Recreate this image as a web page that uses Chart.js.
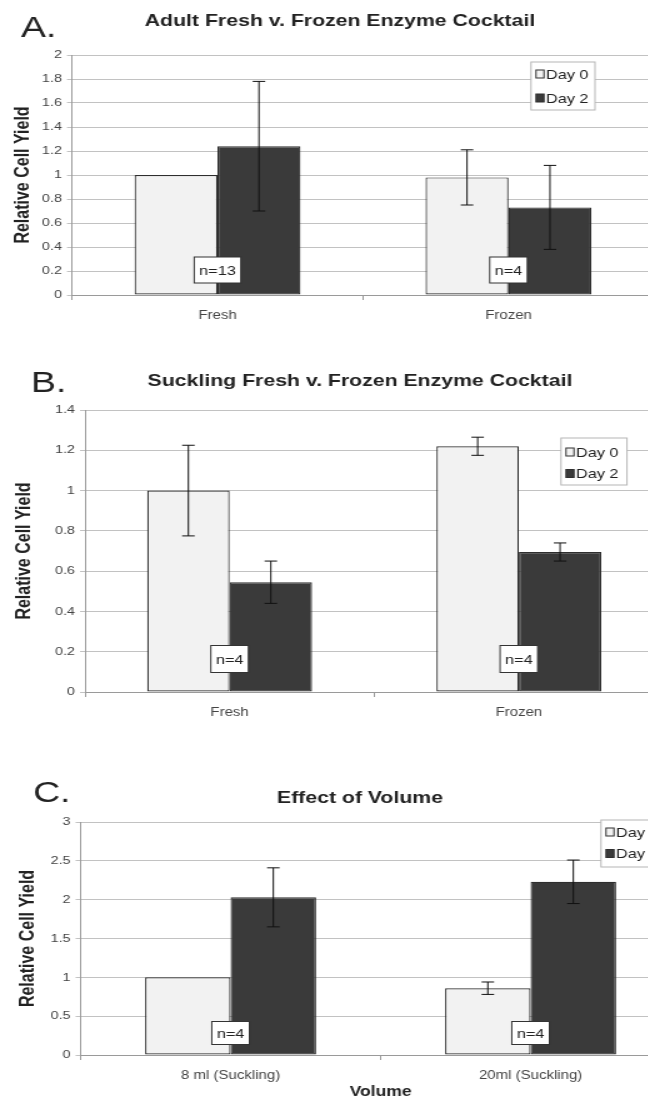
<!DOCTYPE html>
<html>
<head>
<meta charset="utf-8">
<script src="https://cdn.jsdelivr.net/npm/chart.js@4.4.1/dist/chart.umd.min.js"></script>
<style>
  html, body { margin: 0; padding: 0; background: #fff; }
  #page { position: relative; width: 648px; height: 1101px; overflow: hidden; background: #fff; }
  /* the scanned figure is wider than it is tall, so each canvas is stretched sideways */
  #page canvas { position: absolute; left: 0; transform: scaleX(1.25); transform-origin: 0 0; }
</style>
</head>
<body>
<div id="page">
  <canvas id="chartA" width="560" height="335" style="top:0px"></canvas>
  <canvas id="chartB" width="560" height="390" style="top:335px"></canvas>
  <canvas id="chartC" width="560" height="376" style="top:725px"></canvas>
</div>
<script>
// ---- data ----
const seriesNames = ['Day 0', 'Day 2'];

const adultCats = ['Fresh', 'Frozen'];
const adultDay0 = [1.0, 0.98];
const adultDay0Err = [null, 0.23];
const adultDay2 = [1.24, 0.73];
const adultDay2Err = [0.54, 0.35];
const adultN = ['n=13', 'n=4'];
const adultYMax = 2, adultYStep = 0.2;

const sucklingCats = ['Fresh', 'Frozen'];
const sucklingDay0 = [1.0, 1.22];
const sucklingDay0Err = [0.225, 0.045];
const sucklingDay2 = [0.545, 0.695];
const sucklingDay2Err = [0.105, 0.045];
const sucklingN = ['n=4', 'n=4'];
const sucklingYMax = 1.4, sucklingYStep = 0.2;

const volumeCats = ['8 ml (Suckling)', '20ml (Suckling)'];
const volumeDay0 = [1.0, 0.86];
const volumeDay0Err = [null, 0.08];
const volumeDay2 = [2.03, 2.23];
const volumeDay2Err = [0.38, 0.28];
const volumeN = ['n=4', 'n=4'];
const volumeYMax = 3, volumeYStep = 0.5;

// ---- style ----
const SX = 1.25;
const FONT = "'Liberation Sans', Arial, Helvetica, sans-serif";
const DAY0_FILL = '#f2f2f2', DAY2_FILL = '#3a3a3a', EDGE = '#2e2e2e';
const GRID = '#c2c2c2', AXIS = '#9a9a9a', TEXT = '#222', TICK = '#444';

Chart.defaults.font.family = FONT;

// page coordinates of each panel (px in the 648x1101 page)
const layoutA = { top: 0, height: 335, plotTop: 55, plotBottom: 295, plotLeft: 72, plotRight: 654,
  letter: 'A.', letterX: 21, letterY: 37, title: 'Adult Fresh v. Frozen Enzyme Cocktail', titleX: 340, titleY: 26,
  yTitleX: 23, nLift: 25, nH: 26, legend: { x: 531, y: 62, w: 64, h: 48, row: 74, gap: 24 }, xAxisH: 28, xTitle: null };
const layoutB = { top: 335, height: 390, plotTop: 410, plotBottom: 692, plotLeft: 85, plotRight: 663.5,
  letter: 'B.', letterX: 31, letterY: 392, title: 'Suckling Fresh v. Frozen Enzyme Cocktail', titleX: 360, titleY: 386,
  yTitleX: 25, nLift: 33, nH: 27, legend: { x: 561, y: 438, w: 66, h: 47, row: 452, gap: 21.5 }, xAxisH: 28, xTitle: null };
const layoutC = { top: 725, height: 376, plotTop: 822, plotBottom: 1055, plotLeft: 80.6, plotRight: 680.6,
  letter: 'C.', letterX: 33, letterY: 802, title: 'Effect of Volume', titleX: 360, titleY: 803,
  yTitleX: 28, nLift: 22, nH: 23, legend: { x: 601, y: 820, w: 66, h: 47, row: 832, gap: 21.5 }, xAxisH: 46, xTitle: 'Volume' };

const figurePlugin = {
  id: 'figure',
  afterDatasetsDraw(chart, args, o) {
    const ctx = chart.ctx, xs = chart.scales.x, ys = chart.scales.y;
    // error bars
    ctx.save();
    ctx.strokeStyle = '#111';
    ctx.lineWidth = 1;
    chart.data.datasets.forEach((ds, di) => {
      chart.getDatasetMeta(di).data.forEach((bar, i) => {
        const e = ds.errors[i];
        if (e == null) return;
        const yt = ys.getPixelForValue(ds.data[i] + e);
        const yb = ys.getPixelForValue(ds.data[i] - e);
        ctx.beginPath();
        ctx.moveTo(bar.x, yt); ctx.lineTo(bar.x, yb);
        ctx.moveTo(bar.x - 5, yt); ctx.lineTo(bar.x + 5, yt);
        ctx.moveTo(bar.x - 5, yb); ctx.lineTo(bar.x + 5, yb);
        ctx.stroke();
      });
    });
    // n= labels
    ctx.font = '13px ' + FONT;
    ctx.textAlign = 'center';
    ctx.textBaseline = 'middle';
    o.nLabels.forEach((t, i) => {
      const cx = xs.getPixelForValue(i);
      const cy = chart.chartArea.bottom - o.L.nLift;
      const w = ctx.measureText(t).width + 8;
      ctx.fillStyle = '#fff';
      ctx.fillRect(cx - w / 2, cy - o.L.nH / 2, w, o.L.nH);
      ctx.strokeStyle = '#333';
      ctx.strokeRect(cx - w / 2, cy - o.L.nH / 2, w, o.L.nH);
      ctx.fillStyle = TEXT;
      ctx.fillText(t, cx, cy + 1);
    });
    ctx.restore();
  },
  afterDraw(chart, args, o) {
    const ctx = chart.ctx, L = o.L;
    ctx.save();
    // panel letter
    ctx.fillStyle = TEXT;
    ctx.textBaseline = 'alphabetic';
    ctx.textAlign = 'left';
    ctx.font = '30px ' + FONT;
    ctx.fillText(L.letter, L.letterX / SX, L.letterY - L.top);
    // title
    ctx.textAlign = 'center';
    ctx.font = 'bold 17px ' + FONT;
    ctx.fillText(L.title, L.titleX / SX, L.titleY - L.top);
    // legend
    const g = L.legend;
    ctx.fillStyle = '#fff';
    ctx.fillRect(g.x / SX, g.y - L.top, g.w / SX, g.h);
    ctx.strokeStyle = '#b5b5b5';
    ctx.lineWidth = 1;
    ctx.strokeRect(g.x / SX, g.y - L.top, g.w / SX, g.h);
    ctx.font = '13px ' + FONT;
    ctx.textAlign = 'left';
    ctx.textBaseline = 'middle';
    chart.data.datasets.forEach((ds, i) => {
      const ry = g.row + i * g.gap - L.top;
      ctx.fillStyle = ds.backgroundColor;
      ctx.fillRect((g.x + 5) / SX, ry - 4, 6.4, 8);
      ctx.strokeStyle = EDGE;
      ctx.strokeRect((g.x + 5) / SX, ry - 4, 6.4, 8);
      ctx.fillStyle = TEXT;
      ctx.fillText(ds.label, (g.x + 15) / SX, ry + 1);
    });
    ctx.restore();
  }
};

function makePanel(id, L, cats, d0, e0, d2, e2, nLabels, yMax, yStep) {
  const H = L.height;
  return new Chart(document.getElementById(id), {
    type: 'bar',
    data: {
      labels: cats,
      datasets: [
        { label: seriesNames[0], data: d0, errors: e0, backgroundColor: DAY0_FILL, borderColor: EDGE,
          borderWidth: 1.2, borderSkipped: false },
        { label: seriesNames[1], data: d2, errors: e2, backgroundColor: DAY2_FILL, borderColor: EDGE,
          borderWidth: 1.2, borderSkipped: false }
      ]
    },
    options: {
      responsive: false,
      animation: false,
      devicePixelRatio: 1,
      layout: {
        padding: {
          top: L.plotTop - L.top,
          left: 0,
          right: 560 - L.plotRight / SX,
          bottom: H - (L.plotBottom - L.top) - L.xAxisH
        }
      },
      datasets: { bar: { categoryPercentage: 0.57, barPercentage: 1 } },
      scales: {
        x: {
          afterFit: (s) => { s.height = L.xAxisH; },
          grid: { offset: true, drawOnChartArea: false, drawTicks: true, tickLength: 5, color: AXIS },
          border: { color: AXIS },
          ticks: { color: TICK, font: { size: 12 }, padding: 8, maxRotation: 0 },
          title: L.xTitle ? { display: true, text: L.xTitle, color: TEXT,
            font: { size: 14, weight: 'bold', lineHeight: 1 }, padding: { top: 0, bottom: 2 } } : { display: false }
        },
        y: {
          min: 0, max: yMax,
          afterFit: (s) => { s.width = L.plotLeft / SX; },
          grid: { color: GRID, tickLength: 4, drawTicks: true },
          border: { color: AXIS },
          ticks: { stepSize: yStep, color: TICK, font: { size: 11.5 }, padding: 4,
            callback: (v) => String(Number(v.toFixed(2))) },
          title: { display: true, text: 'Relative Cell Yield', color: TEXT,
            font: { size: 16, weight: 'bold', lineHeight: 1 }, padding: { top: L.yTitleX / SX - 8, bottom: 0 } }
        }
      },
      plugins: {
        legend: { display: false },
        tooltip: { enabled: false },
        figure: { L, nLabels }
      }
    },
    plugins: [figurePlugin]
  });
}

makePanel('chartA', layoutA, adultCats, adultDay0, adultDay0Err, adultDay2, adultDay2Err, adultN, adultYMax, adultYStep);
makePanel('chartB', layoutB, sucklingCats, sucklingDay0, sucklingDay0Err, sucklingDay2, sucklingDay2Err, sucklingN, sucklingYMax, sucklingYStep);
makePanel('chartC', layoutC, volumeCats, volumeDay0, volumeDay0Err, volumeDay2, volumeDay2Err, volumeN, volumeYMax, volumeYStep);
</script>
</body>
</html>
